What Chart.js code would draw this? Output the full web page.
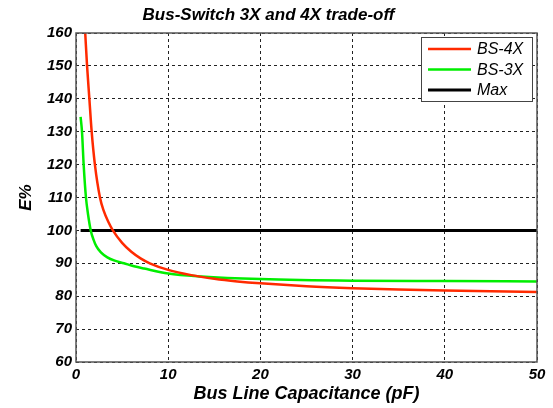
<!DOCTYPE html>
<html>
<head>
<meta charset="utf-8">
<script src="https://cdn.jsdelivr.net/npm/chart.js@4"></script>
<style>
  html, body { margin: 0; padding: 0; background: #fff; }
  #wrap { width: 553px; height: 408px; }
</style>
</head>
<body>
<div id="wrap"><canvas id="myChart" width="553" height="408"></canvas></div>
<script>
// Chart data
var bs4xCap = [1.0, 1.2, 1.45, 1.7, 2.05, 2.6, 3.0, 3.5, 4.0, 5.0, 6.0, 7.0, 8.0, 10, 12.5, 15, 17.5, 20, 25, 30, 35, 40, 45, 50];
var bs4xVal = [160, 150, 140, 130, 120, 110, 106, 102.6, 100, 96.2, 93.5, 91.5, 90, 88, 86.4, 85.3, 84.5, 83.9, 83.0, 82.4, 82.0, 81.7, 81.5, 81.3];

var bs3xCap = [0.5, 0.65, 0.83, 1.08, 1.3, 1.6, 1.9, 2.2, 2.7, 3.4, 4.2, 5.2, 6.3, 7.4, 10, 13.6, 20, 30, 40, 50];
var bs3xVal = [134.5, 130, 120, 110, 105, 100, 97.2, 95.2, 93.3, 91.8, 90.8, 90, 89.1, 88.4, 86.9, 86, 85.2, 84.7, 84.6, 84.5];

var maxCap = [0.5, 50];
var maxVal = [100, 100];

var xTicks = [0, 10, 20, 30, 40, 50];
var yTicks = [60, 70, 80, 90, 100, 110, 120, 130, 140, 150, 160];

function points(xs, ys) {
  return xs.map(function (x, i) { return { x: x, y: ys[i] }; });
}

var FONT = '"Liberation Sans", Arial, sans-serif';

// Draws the box around the plot and the MATLAB-style legend
var boxLegend = {
  id: 'boxLegend',
  afterDatasetsDraw: function (chart) {
    var c = chart.ctx, a = chart.chartArea;
    c.save();
    c.strokeStyle = '#555';
    c.lineWidth = 1.5;
    c.strokeRect(a.left, a.top, a.right - a.left, a.bottom - a.top);

    var bx = 421, by = 37, bw = 111, bh = 64;
    c.fillStyle = '#fff';
    c.fillRect(bx, by, bw, bh);
    c.strokeStyle = '#444';
    c.lineWidth = 1;
    c.strokeRect(bx + 0.5, by + 0.5, bw, bh);

    c.font = 'italic 16px ' + FONT;
    c.textBaseline = 'middle';
    chart.data.datasets.forEach(function (ds, i) {
      var y = by + 12 + i * 20.5;
      c.strokeStyle = ds.borderColor;
      c.lineWidth = ds.borderWidth;
      c.beginPath();
      c.moveTo(bx + 7, y);
      c.lineTo(bx + 50, y);
      c.stroke();
      c.fillStyle = '#000';
      c.fillText(ds.label, bx + 56, y + 1);
    });
    c.restore();
  }
};

var ctx = document.getElementById('myChart').getContext('2d');

var myChart = new Chart(ctx, {
  type: 'line',
  data: {
    datasets: [
      {
        label: 'BS-4X',
        data: points(bs4xCap, bs4xVal),
        borderColor: '#ff2a00',
        borderWidth: 2.5,
        pointRadius: 0,
        cubicInterpolationMode: 'monotone',
      },
      {
        label: 'BS-3X',
        data: points(bs3xCap, bs3xVal),
        borderColor: '#00ee00',
        borderWidth: 2.5,
        pointRadius: 0,
        cubicInterpolationMode: 'monotone',
      },
      {
        label: 'Max',
        data: points(maxCap, maxVal),
        borderColor: '#000000',
        borderWidth: 3,
        pointRadius: 0,
      },
    ],
  },
  options: {
    responsive: false,
    animation: false,
    layout: { padding: { left: 0, right: 16, top: 0, bottom: 0 } },
    plugins: {
      legend: { display: false },
      tooltip: { enabled: false },
      title: {
        display: true,
        text: 'Bus-Switch 3X and 4X trade-off',
        color: '#000',
        font: { family: FONT, size: 17, weight: 'bold', style: 'italic' },
        padding: { top: 5, bottom: 7.6 },
      },
    },
    scales: {
      x: {
        type: 'linear',
        min: 0,
        max: 50,
        afterFit: function (s) { s.height = 46; },
        afterBuildTicks: function (s) { s.ticks = xTicks.map(function (v) { return { value: v }; }); },
        border: { display: false, dash: [3, 3] },
        grid: { color: '#222', lineWidth: 1, drawTicks: false },
        ticks: {
          color: '#000',
          padding: 4,
          maxRotation: 0,
          font: { family: FONT, size: 15, weight: 'bold', style: 'italic' },
        },
        title: {
          display: true,
          text: 'Bus Line Capacitance (pF)',
          color: '#000',
          padding: { top: 0, bottom: 3 },
          font: { family: FONT, size: 18, weight: 'bold', style: 'italic' },
        },
      },
      y: {
        min: 60,
        max: 160,
        afterFit: function (s) { s.width = 76; },
        afterBuildTicks: function (s) { s.ticks = yTicks.map(function (v) { return { value: v }; }); },
        border: { display: false, dash: [3, 3] },
        grid: { color: '#222', lineWidth: 1, drawTicks: false },
        ticks: {
          color: '#000',
          padding: 4,
          font: { family: FONT, size: 15, weight: 'bold', style: 'italic' },
        },
        title: {
          display: true,
          text: 'E%',
          color: '#000',
          padding: { top: 16, bottom: 0 },
          font: { family: FONT, size: 17, weight: 'bold', style: 'italic' },
        },
      },
    },
  },
  plugins: [boxLegend],
});
</script>
</body>
</html>
